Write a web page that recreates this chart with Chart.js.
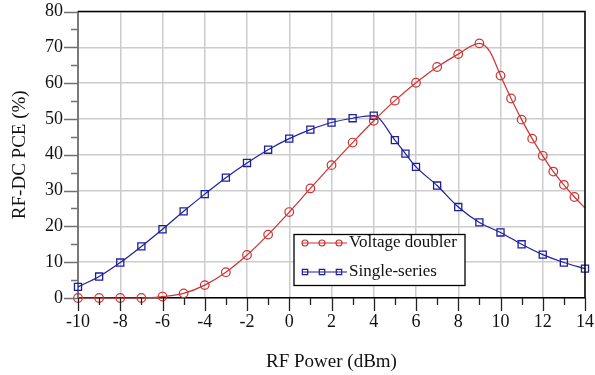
<!DOCTYPE html>
<html>
<head>
<meta charset="utf-8">
<script src="https://cdn.jsdelivr.net/npm/chart.js@4/dist/chart.umd.min.js"></script>
<style>
html,body{margin:0;padding:0;background:#fff;}
#wrap{position:relative;width:595px;height:375px;}
</style>
</head>
<body>
<div id="wrap"><canvas id="c" width="595" height="375"></canvas></div>
<script>
// ---- data ----
const doublerX = [-10,-9,-8,-7,-6,-5,-4,-3,-2,-1,0,1,2,3,4,5,6,7,8,9,9.5,10,10.5,11,11.5,12,12.5,13,13.5,14];
const doublerY = [0,0,0,0,0.4,1.3,3.6,7.2,12.0,17.7,24.0,30.6,37.1,43.4,49.5,55.1,60.1,64.5,68.1,71.1,68.8,62.1,55.7,49.8,44.5,39.7,35.3,31.6,28.2,25.1];
const doublerMarked = [1,1,1,1,1,1,1,1,1,1,1,1,1,1,1,1,1,1,1,1,0,1,1,1,1,1,1,1,1,0];
const singleX = [-10,-9,-8,-7,-6,-5,-4,-3,-2,-1,0,1,2,3,4,5,5.5,6,7,8,9,10,11,12,13,14];
const singleY = [3.1,6.0,9.9,14.4,19.2,24.2,29.0,33.6,37.7,41.4,44.5,47.0,49.0,50.2,50.9,44.1,40.3,36.6,31.4,25.4,21.1,18.3,15.0,12.1,9.9,8.2];
const seriesNames = ['Voltage doubler','Single-series'];
const xTitle = 'RF Power (dBm)';
const yTitle = 'RF-DC PCE (%)';
const xMin = -10, xMax = 14, yMin = 0, yMax = 80;

const RED = '#cc3333', BLUE = '#1f1f9e';
const FONT = "'Liberation Serif', 'Times New Roman', serif";

const pts = (xs, ys) => xs.map((x, i) => ({x, y: ys[i]}));

const framePlugin = {
  id: 'frame',
  afterDraw(chart) {
    const {ctx, chartArea: a, scales: {x, y}} = chart;
    ctx.save();
    ctx.strokeStyle = '#000'; ctx.lineWidth = 1.5;
    ctx.beginPath();
    ctx.moveTo(a.left, a.top); ctx.lineTo(a.right, a.top); ctx.lineTo(a.right, a.bottom);
    ctx.stroke();
    ctx.strokeStyle = '#222'; ctx.lineWidth = 1.3;
    for (let v = xMin; v <= xMax; v++) {
      const px = Math.round(x.getPixelForValue(v)) + 0.5;
      const len = (v % 2 === 0) ? 13 : 7;
      ctx.beginPath(); ctx.moveTo(px, a.bottom); ctx.lineTo(px, a.bottom + len); ctx.stroke();
    }
    ctx.strokeStyle = '#707070'; ctx.lineWidth = 1.5;
    for (let v = yMin; v <= yMax; v += 5) {
      const py = Math.round(y.getPixelForValue(v)) + 0.5;
      const len = (v % 10 === 0) ? 14 : 7;
      ctx.beginPath(); ctx.moveTo(a.left - len, py); ctx.lineTo(a.left, py); ctx.stroke();
    }
    const bx = 294, by = 234.5, bw = 171, bh = 51;
    ctx.fillStyle = '#fff'; ctx.fillRect(bx, by, bw, bh);
    ctx.strokeStyle = '#000'; ctx.lineWidth = 1.3; ctx.strokeRect(bx, by, bw, bh);
    const rows = [
      {y: 243, color: RED, shape: 'circle', label: seriesNames[0]},
      {y: 272, color: BLUE, shape: 'rect', label: seriesNames[1]}
    ];
    ctx.font = '17px ' + FONT; ctx.textBaseline = 'middle'; ctx.textAlign = 'left';
    rows.forEach(r => {
      ctx.strokeStyle = r.color; ctx.lineWidth = 1.2;
      ctx.beginPath(); ctx.moveTo(302, r.y); ctx.lineTo(347, r.y); ctx.stroke();
      [305, 322, 339].forEach(mx => {
        ctx.beginPath();
        if (r.shape === 'circle') ctx.arc(mx, r.y, 3, 0, Math.PI * 2);
        else ctx.rect(mx - 2.7, r.y - 2.7, 5.4, 5.4);
        ctx.stroke();
      });
      ctx.fillStyle = '#111';
      ctx.fillText(r.label, 349, r.y);
    });
    ctx.restore();
  }
};

new Chart(document.getElementById('c'), {
  type: 'line',
  data: {
    datasets: [
      {
        label: seriesNames[0],
        data: pts(doublerX, doublerY),
        borderColor: RED, backgroundColor: 'rgba(0,0,0,0)',
        borderWidth: 1.2,
        pointStyle: 'circle',
        pointRadius: doublerMarked.map(m => m ? 4.3 : 0),
        pointBorderWidth: 1.2,
        pointBorderColor: RED,
        pointBackgroundColor: 'rgba(0,0,0,0)',
        cubicInterpolationMode: 'monotone',
        clip: false
      },
      {
        label: seriesNames[1],
        data: pts(singleX, singleY),
        borderColor: BLUE, backgroundColor: 'rgba(0,0,0,0)',
        borderWidth: 1.2,
        pointStyle: 'rect',
        pointRadius: 5,
        pointBorderWidth: 1.3,
        pointBorderColor: BLUE,
        pointBackgroundColor: 'rgba(0,0,0,0)',
        cubicInterpolationMode: 'monotone',
        clip: false
      }
    ]
  },
  options: {
    responsive: false,
    animation: false,
    devicePixelRatio: 1,
    layout: {padding: {top: 11.5, right: 10, left: 0, bottom: 0}},
    plugins: {legend: {display: false}, tooltip: {enabled: false}},
    scales: {
      x: {
        type: 'linear', min: xMin, max: xMax,
        afterFit: s => { s.height = 77; s.paddingLeft = 0; s.paddingRight = 0; },
        grid: {
          drawTicks: false,
          color: c => (c.tick && Math.abs(c.tick.value % 2) === 1) ? 'rgba(0,0,0,0)' : '#cccccc',
          lineWidth: 1.5
        },
        border: {display: true, color: '#000', width: 1.5},
        ticks: {
          stepSize: 1, autoSkip: false, maxRotation: 0, padding: 13,
          color: '#111', font: {family: FONT, size: 18},
          callback: v => (v % 2 === 0 ? String(v) : '')
        },
        title: {display: true, text: xTitle, color: '#111', font: {family: FONT, size: 19}, padding: {top: 0, bottom: 2}}
      },
      y: {
        type: 'linear', min: yMin, max: yMax,
        afterFit: s => { s.width = 78; s.paddingTop = 0; s.paddingBottom = 0; },
        grid: {
          drawTicks: false,
          color: c => (c.tick && c.tick.value % 10 !== 0) ? 'rgba(0,0,0,0)' : '#cccccc',
          lineWidth: 1.5
        },
        border: {display: true, color: '#7a7a7a', width: 2},
        ticks: {
          stepSize: 5, autoSkip: false, padding: 15,
          color: '#111', font: {family: FONT, size: 18},
          callback: v => (v % 10 === 0 ? String(v) : '')
        },
        title: {display: true, text: yTitle, color: '#111', font: {family: FONT, size: 19}, padding: {top: 9, bottom: 0}}
      }
    }
  },
  plugins: [framePlugin]
});
</script>
</body>
</html>
